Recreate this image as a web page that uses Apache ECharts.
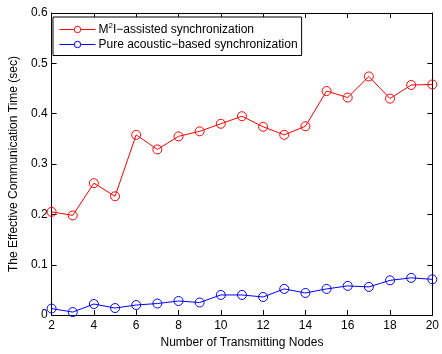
<!DOCTYPE html>
<html><head><meta charset="utf-8">
<script src="https://cdn.jsdelivr.net/npm/echarts@6/dist/echarts.min.js"></script>
<style>html,body{margin:0;padding:0;background:#fff}#c{width:442px;height:354px}</style>
</head><body><div id="c"></div>
<script>
const nodes = [2,3,4,5,6,7,8,9,10,11,12,13,14,15,16,17,18,19,20];
const m2iValues = [0.205,0.198,0.262,0.236,0.358,0.329,0.355,0.365,0.380,0.395,0.374,0.358,0.375,0.445,0.432,0.474,0.430,0.457,0.458];
const acousticValues = [0.013,0.006,0.022,0.014,0.020,0.023,0.028,0.025,0.040,0.040,0.036,0.052,0.044,0.052,0.058,0.056,0.069,0.074,0.071];
const seriesNames = ['M2I\u2212assisted synchronization','Pure acoustic\u2212based synchronization'];
const xTitle = 'Number of Transmitting Nodes';
const yTitle = 'The Effective Communication Time (sec)';

const font = 'Liberation Sans, Arial, Helvetica, sans-serif';
const pair = (xs, ys) => xs.map((x,i)=>[x, ys[i]]);
const axisCommon = {
  axisLine:{show:true,onZero:false,lineStyle:{color:'#000',width:1}},
  axisTick:{show:true,inside:true,length:5,lineStyle:{color:'#000'}},
  splitLine:{show:false}
};
const chart = echarts.init(document.getElementById('c'));
chart.setOption({
  animation:false,
  textStyle:{fontFamily:font},
  grid:{left:48,right:6,top:13,bottom:37,show:false},
  legend:{
    orient:'vertical',left:53,top:17,
    itemWidth:36,itemHeight:8,itemGap:3,
    padding:[5,4,5,6],
    borderColor:'#000',borderWidth:1,backgroundColor:'#fff',
    lineStyle:{width:1},
    itemStyle:{borderWidth:1,color:'#fff'},
    textStyle:{fontFamily:font,fontSize:12,color:'#000',padding:[0,0,0,-2],
      rich:{sup:{fontSize:8,verticalAlign:'top',padding:[0,0,7,0],fontFamily:font,color:'#000'},
            t:{fontSize:12,fontFamily:font,color:'#000'}}},
    formatter:function(n){ if(n.indexOf('M2I')===0){return '{t|M}{sup|2}{t|'+n.slice(2)+'}';} return n; },
    data:seriesNames
  },
  xAxis:[
    Object.assign({type:'value',min:2,max:20,interval:2,position:'bottom',
      name:xTitle,nameLocation:'middle',nameGap:19,
      nameTextStyle:{fontFamily:font,fontSize:12,color:'#000'},
      axisLabel:{fontFamily:font,fontSize:12,color:'#000',margin:5}},axisCommon),
    Object.assign({type:'value',min:2,max:20,interval:2,position:'top',axisLabel:{show:false}},axisCommon)
  ],
  yAxis:[
    Object.assign({type:'value',min:0,max:0.6,interval:0.1,position:'left',
      name:yTitle,nameLocation:'middle',nameGap:27,
      nameTextStyle:{fontFamily:font,fontSize:12,color:'#000'},
      axisLabel:{fontFamily:font,fontSize:12,color:'#000',margin:4,formatter:v=>v===0?'0':String(+v.toFixed(1))}},axisCommon),
    Object.assign({type:'value',min:0,max:0.6,interval:0.1,position:'right',axisLabel:{show:false}},axisCommon)
  ],
  series:[
    {name:seriesNames[0],type:'line',data:pair(nodes,m2iValues),
      symbol:'circle',symbolSize:9,showAllSymbol:true,
      lineStyle:{color:'#ff0000',width:1},
      itemStyle:{color:'rgba(255,255,255,0)',borderColor:'#ff0000',borderWidth:1},
      emphasis:{disabled:true}},
    {name:seriesNames[1],type:'line',data:pair(nodes,acousticValues),
      symbol:'circle',symbolSize:9,showAllSymbol:true,
      lineStyle:{color:'#0000ff',width:1},
      itemStyle:{color:'rgba(255,255,255,0)',borderColor:'#0000ff',borderWidth:1},
      emphasis:{disabled:true}}
  ]
});
</script></body></html>
